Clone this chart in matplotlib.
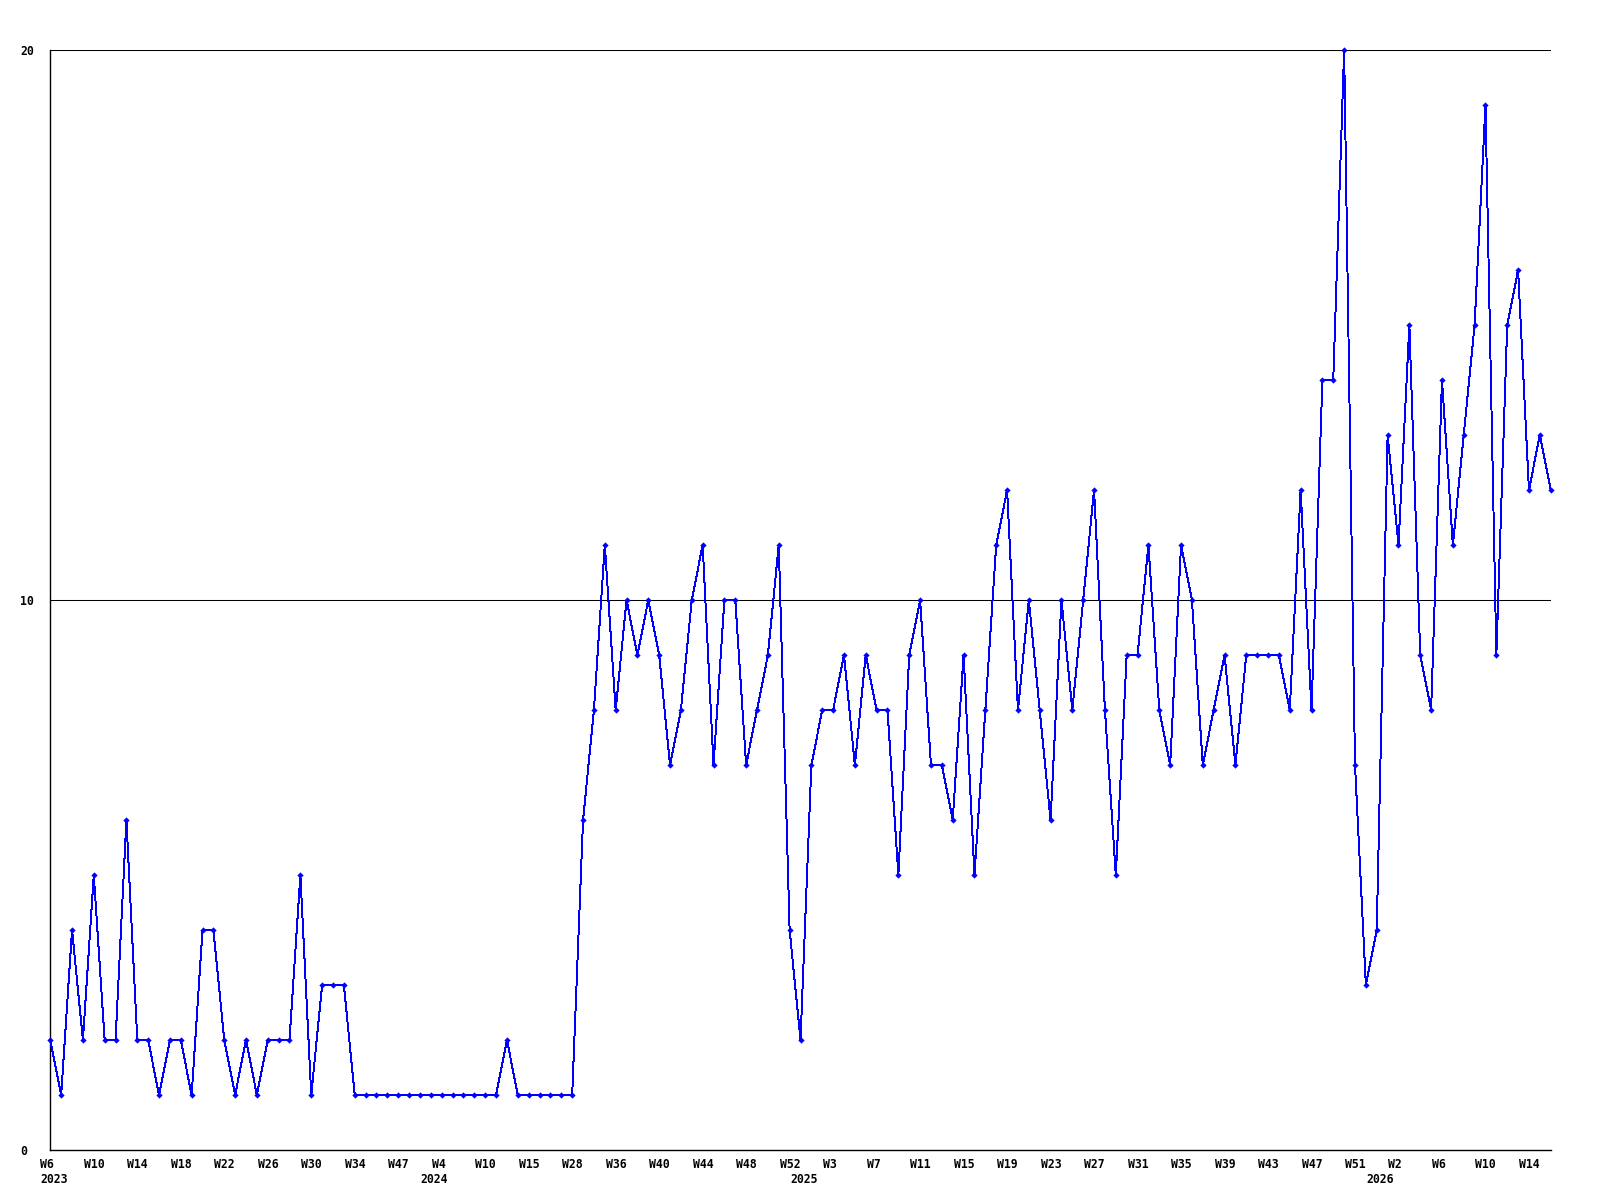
import matplotlib
matplotlib.use('Agg')
import matplotlib.pyplot as plt
import matplotlib.transforms as mtransforms
import numpy as np

# weekly counts, one value per data point (weeks are not contiguous)
counts = [2, 1, 4, 2, 5, 2, 2, 6, 2, 2, 1, 2, 2, 1, 4, 4, 2, 1, 2, 1,
          2, 2, 2, 5, 1, 3, 3, 3, 1, 1, 1, 1, 1,
          1, 1, 1, 1, 1, 1, 1, 1, 1, 2, 1, 1, 1, 1, 1, 1,
          6, 8, 11, 8, 10, 9, 10, 9, 7, 8, 10, 11, 7, 10, 10, 7, 8, 9, 11, 4, 2,
          7, 8, 8, 9, 7, 9, 8, 8, 5, 9, 10, 7, 7, 6, 9, 5, 8, 11, 12, 8,
          10, 8, 6, 10, 8, 10, 12, 8, 5, 9, 9, 11, 8,
          7, 11, 10, 7, 8, 9, 7, 9, 9, 9, 9, 8, 12, 8, 14, 14, 20, 7, 3, 4,
          13, 11, 15, 9, 8, 14, 11, 13, 15, 19, 9, 15, 16, 12, 13, 12]

# label on every 4th point
week_labels = ['W6', 'W10', 'W14', 'W18', 'W22', 'W26', 'W30', 'W34', 'W47',
               'W4', 'W10', 'W15', 'W28', 'W36', 'W40', 'W44', 'W48', 'W52',
               'W3', 'W7', 'W11', 'W15', 'W19', 'W23', 'W27', 'W31', 'W35',
               'W39', 'W43', 'W47', 'W51', 'W2', 'W6', 'W10', 'W14']

# first point of each year
year_labels = ['2023', '2024', '2025', '2026']
year_pos = [0, 35, 69, 122]

y_ticks = [0, 10, 20]

font = {'family': 'DejaVu Sans Mono', 'weight': 'bold', 'size': 8.3}

fig = plt.figure(figsize=(16, 12), dpi=100)
ax = fig.add_axes([50.3/1600, 50/1200, 1500.4/1600, 1100/1200])

x = np.arange(len(counts))

for yv in y_ticks[1:]:
    ax.axhline(yv, color='k', lw=0.75, zorder=1)

ax.plot(x, counts, color='#0000ff', lw=0.7, marker='D', ms=3.2, mew=0,
        antialiased=False, clip_on=False, zorder=3)

ax.set_xlim(0, len(counts) - 1)
ax.set_ylim(0, 20)

for s in ['top', 'right']:
    ax.spines[s].set_visible(False)
for s in ['left', 'bottom']:
    ax.spines[s].set_linewidth(1.0)
    ax.spines[s].set_color('k')

# x labels: weeks (major), years (minor)
ax.xaxis.remove_overlapping_locs = False
ax.set_xticks(x[::4])
ax.set_xticklabels(week_labels, fontdict=font, ha='left')
ax.set_xticks(year_pos, minor=True)
ax.set_xticklabels(year_labels, minor=True, fontdict=font, ha='left')
ax.tick_params(axis='x', which='major', length=0, pad=5.6)
ax.tick_params(axis='x', which='minor', length=0, pad=16.4)

shift = mtransforms.ScaledTranslation(-10/100, 0, fig.dpi_scale_trans)
for lab in ax.get_xticklabels(which='both'):
    lab.set_transform(lab.get_transform() + shift)

ax.set_yticks(y_ticks)
ax.set_yticklabels([str(v) for v in y_ticks], fontdict=font, ha='left')
ax.tick_params(axis='y', length=0, pad=21.8)

fig.savefig('out.png', dpi=100, facecolor='white')
